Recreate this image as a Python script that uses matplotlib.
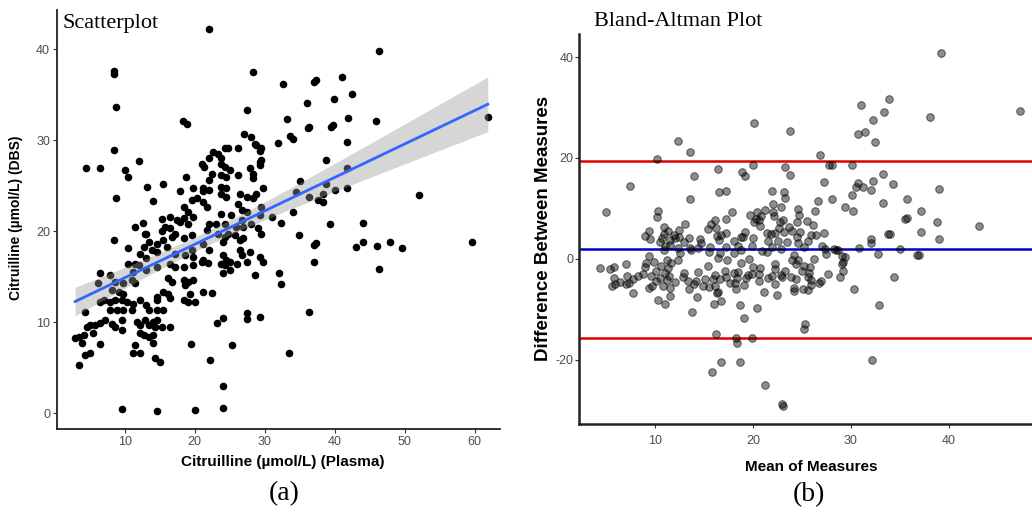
import numpy as np
import matplotlib
matplotlib.use("Agg")
import matplotlib.pyplot as plt

# citrulline readings (plasma on x, dried blood spot on y)
plasma = [
    22.1, 8.5, 8.5, 8.8, 28.3, 27.4, 18.3, 18.9, 8.5, 4.5, 6.5, 10.0, 10.4, 12.1, 8.8, 13.2,
    14.1, 15.5, 8.5, 17.9, 18.8, 27.1, 28.0, 28.8, 21.0, 21.3, 22.6, 23.3, 24.8, 23.8, 26.2,
    22.4, 22.1, 32.6, 37.1, 37.4, 41.0, 36.0, 39.9, 33.2, 36.2, 36.4, 39.5, 39.8, 41.9, 33.6,
    34.0, 31.9, 28.6, 29.5, 29.3, 41.7, 38.8, 29.3, 41.7, 35.0, 38.8, 41.7, 40.0, 34.5, 36.4,
    38.3, 37.6, 38.3, 29.8, 28.3, 28.8, 29.5, 29.3, 31.0, 32.4, 34.0, 39.4, 28.1, 29.0, 29.5,
    26.7, 26.9, 25.9, 34.9, 24.3, 22.1, 23.8, 24.3, 25.0, 23.8, 24.5, 26.2, 27.9, 28.3, 28.3,
    29.5, 29.3, 21.2, 22.1, 23.8, 24.5, 23.8, 24.5, 26.4, 27.4, 21.2, 21.7, 26.2, 26.7, 27.4,
    25.2, 23.8, 22.1, 23.1, 24.3, 21.7, 23.3, 24.8, 19.8, 21.2, 18.4, 19.6, 20.3, 19.1, 19.8,
    18.4, 17.4, 16.5, 15.3, 15.8, 16.5, 17.2, 17.9, 19.1, 19.6, 15.3, 13.1, 12.6, 11.5, 10.5,
    12.9, 13.4, 14.6, 15.5, 16.7, 18.4, 16.0, 14.6, 13.9, 12.7, 12.2, 13.1, 11.5, 12.0, 11.2,
    13.1, 14.6, 16.5, 17.2, 18.4, 19.8, 21.0, 19.8, 21.2, 6.5, 7.9, 6.2, 8.6, 8.1, 9.1, 9.8,
    9.6, 10.3, 8.6, 7.9, 7.0, 6.5, 8.9, 7.9, 9.8, 11.0, 11.2, 12.2, 13.1, 13.4, 14.6, 15.5,
    14.6, 15.5, 16.2, 14.6, 16.5, 16.2, 16.7, 18.4, 19.1, 19.8, 18.6, 19.3, 18.4, 19.1, 21.2,
    20.0, 4.3, 4.6, 5.0, 5.8, 6.5, 7.2, 8.1, 8.6, 9.6, 9.6, 2.9, 3.4, 3.9, 4.1, 5.5, 6.5, 4.3,
    5.0, 3.5, 11.7, 12.2, 12.9, 13.4, 14.1, 14.6, 14.3, 12.2, 12.7, 13.4, 14.1, 15.3, 16.5,
    11.5, 11.2, 12.2, 14.1, 14.3, 15.0, 19.5, 9.6, 14.6, 20.0, 9.8, 11.0, 11.5, 10.5, 17.2,
    18.6, 19.6, 22.2, 24.1, 24.0, 25.3, 23.2, 24.0, 27.4, 27.5, 29.3, 28.6, 37.1, 37.4, 37.1,
    32.1, 32.4, 22.4, 36.4, 33.5, 24.0, 24.5, 23.8, 24.3, 25.0, 26.0, 26.4, 26.7, 27.4, 27.9,
    29.3, 29.8, 26.4, 26.9, 25.7, 24.0, 24.3, 22.1, 21.2, 21.9, 24.0, 25.0, 46.4, 42.5, 45.9,
    61.9, 52.1, 44.1, 43.1, 44.0, 46.0, 47.9, 49.7, 59.6, 46.3,
]
dbs = [
    42.2, 37.6, 37.3, 33.7, 37.5, 33.3, 32.1, 31.8, 28.9, 27.0, 26.9, 26.7, 26.0, 27.7, 23.6, 24.9,
    23.3, 25.2, 19.0, 24.4, 26.0, 30.7, 30.4, 29.5, 27.4, 27.1, 28.7, 28.5, 29.1, 28.0, 29.1,
    26.3, 25.6, 36.2, 36.4, 36.6, 37.0, 34.1, 34.5, 32.3, 31.3, 31.5, 31.5, 31.7, 32.5, 30.5,
    30.1, 29.7, 29.6, 29.2, 28.8, 29.8, 27.8, 27.6, 26.9, 25.5, 25.2, 24.8, 24.5, 24.3, 23.8,
    24.1, 23.4, 23.2, 24.7, 23.6, 24.1, 22.7, 21.8, 21.6, 20.9, 22.1, 20.8, 20.8, 20.3, 19.7,
    21.2, 20.5, 20.5, 19.6, 29.1, 28.0, 27.4, 27.1, 26.7, 26.2, 26.0, 26.2, 26.9, 26.3, 25.8,
    27.8, 27.3, 24.7, 24.5, 24.9, 24.7, 24.1, 23.8, 24.1, 23.8, 23.2, 22.7, 23.0, 22.3, 22.1,
    21.8, 21.9, 20.8, 20.8, 20.8, 20.1, 19.7, 19.7, 24.7, 24.4, 22.7, 23.4, 23.6, 22.1, 21.6,
    21.4, 21.2, 21.6, 21.3, 20.5, 20.3, 19.7, 21.0, 20.8, 19.6, 20.0, 19.7, 20.9, 20.5, 18.1,
    19.7, 18.8, 18.6, 19.0, 19.4, 19.2, 18.3, 17.7, 17.9, 18.3, 17.5, 17.0, 16.4, 16.3, 15.5,
    15.7, 16.1, 16.4, 16.1, 16.1, 16.3, 16.6, 17.2, 18.6, 15.4, 15.2, 14.3, 14.4, 13.5, 13.3, 13.1,
    12.4, 12.2, 12.4, 12.2, 12.4, 12.2, 11.3, 11.3, 11.3, 11.3, 12.0, 12.4, 11.9, 11.3, 11.3, 11.3,
    12.4, 13.3, 13.1, 12.8, 12.6, 14.8, 14.4, 14.6, 14.4, 14.6, 14.1, 13.1, 12.4, 12.2, 13.3,
    12.2, 11.1, 9.5, 9.7, 9.7, 9.9, 10.2, 9.8, 9.5, 10.2, 9.1, 8.2, 8.4, 7.7, 8.6, 8.8, 7.6, 6.4,
    6.6, 5.3, 10.0, 9.7, 10.2, 9.7, 10.0, 10.2, 9.5, 8.8, 8.6, 8.4, 8.6, 9.5, 9.5,
    7.5, 6.6, 6.6, 7.7, 6.0, 5.6, 7.6, 0.4, 0.2, 0.3, 14.3, 14.6, 14.3, 16.4, 17.5,
    17.4, 17.9, 5.8, 3.0, 0.6, 7.5, 9.9, 10.5, 11.0, 10.3, 10.6, 15.2, 18.5, 18.7, 16.6,
    15.4, 14.2, 13.2, 11.1, 6.6, 17.4, 16.8, 16.4, 16.3, 16.6, 16.4, 17.9, 17.4, 16.6, 17.7,
    17.2, 16.6, 19.0, 19.2, 19.6, 18.8, 19.4, 17.9, 16.8, 16.5, 15.4, 15.7, 39.8, 35.1, 32.1,
    32.6, 24.0, 20.9, 18.3, 18.8, 18.4, 18.8, 18.1, 18.8, 15.8,
]

# bland-altman reference lines as printed on the plot (bias and limits of agreement)
ba_bias = 1.9
ba_limits = [19.4, -15.6]

plasma = np.array(plasma)
dbs = np.array(dbs)

# bland-altman: mean of the two methods against plasma minus dbs
ba_mean = (plasma + dbs) / 2
ba_diff = plasma - dbs

# linear fit with 95% confidence band (like geom_smooth(method='lm'))
slope, intercept = np.polyfit(plasma, dbs, 1)
n = len(plasma)
resid = dbs - (slope * plasma + intercept)
s = np.sqrt(np.sum(resid**2) / (n - 2))
sxx = np.sum((plasma - plasma.mean())**2)
x_line = np.linspace(plasma.min(), plasma.max(), 200)
y_line = slope * x_line + intercept
half = 1.97 * s * np.sqrt(1 / n + (x_line - plasma.mean())**2 / sxx)

serif = "Liberation Serif"
sans = "Liberation Sans"
tick_grey = "#4d4d4d"

fig = plt.figure(figsize=(10.32, 5.12), dpi=100)

# panel (a) scatterplot
ax1 = fig.add_axes([0.0552, 0.162, 0.429, 0.818])
ax1.scatter(plasma, dbs, s=30, color="black", linewidths=0, zorder=2)
ax1.fill_between(x_line, y_line - half, y_line + half, color="#999999", alpha=0.4, linewidth=0, zorder=3)
ax1.plot(x_line, y_line, color="#3366FF", linewidth=2, zorder=4)
ax1.set_xlim(0.3, 63.6)
ax1.set_ylim(-1.76, 44.3)
ax1.set_xticks([10, 20, 30, 40, 50, 60])
ax1.set_yticks([0, 10, 20, 30, 40])
for side in ["top", "right"]:
    ax1.spines[side].set_visible(False)
for side in ["left", "bottom"]:
    ax1.spines[side].set_linewidth(1.3)
    ax1.spines[side].set_color("#222222")
ax1.tick_params(length=3, width=0.8, color="#333333", labelsize=9, labelcolor=tick_grey, pad=2)
for lab in ax1.get_xticklabels() + ax1.get_yticklabels():
    lab.set_family(sans)
ax1.text(0.012, 0.99, "Scatterplot", transform=ax1.transAxes, family=serif, fontsize=16,
         ha="left", va="top")

fig.text(16 / 1032, 1 - 218 / 512, "Citruilline (µmol/L) (DBS)", rotation=90, family=sans,
         fontweight="bold", fontsize=10, ha="center", va="center")
fig.text(283 / 1032, 1 - 462 / 512, "Citruilline (µmol/L) (Plasma)", family=sans,
         fontweight="bold", fontsize=11, ha="center", va="center")
fig.text(284 / 1032, 1 - 494 / 512, "(a)", family=serif, fontsize=20, ha="center", va="center")

# panel (b) bland-altman plot
ax2 = fig.add_axes([0.561, 0.172, 0.439, 0.762])
ax2.axhline(ba_limits[0], color="#DD0000", linewidth=1.8, zorder=1)
ax2.axhline(ba_bias, color="#0000CC", linewidth=1.8, zorder=1)
ax2.axhline(ba_limits[1], color="#DD0000", linewidth=1.8, zorder=1)
ax2.scatter(ba_mean, ba_diff, s=30, facecolor=(0, 0, 0, 0.45), edgecolor=(0, 0, 0, 0.55),
            linewidths=0.7, zorder=2)
ax2.set_xlim(2.2, 48.5)
ax2.set_ylim(-32.7, 44.6)
ax2.set_xticks([10, 20, 30, 40])
ax2.set_yticks([-20, 0, 20, 40])
for side in ["top", "right"]:
    ax2.spines[side].set_visible(False)
for side in ["left", "bottom"]:
    ax2.spines[side].set_linewidth(1.8)
    ax2.spines[side].set_color("#222222")
ax2.tick_params(length=3, width=0.8, color="#333333", labelsize=9, labelcolor=tick_grey)
ax2.tick_params(axis="x", pad=5)
ax2.tick_params(axis="y", pad=1)
ax2.set_yticklabels(["-20", "0", "20", "40"])
for lab in ax2.get_xticklabels() + ax2.get_yticklabels():
    lab.set_family(sans)

fig.text(678 / 1032, 1 - 22 / 512, "Bland-Altman Plot", family=serif, fontsize=16,
         ha="center", va="center")
fig.text(543 / 1032, 1 - 228 / 512, "Difference Between Measures", rotation=90, family=sans,
         fontweight="bold", fontsize=13.5, ha="center", va="center")
fig.text(811 / 1032, 1 - 467 / 512, "Mean of Measures", family=sans,
         fontweight="bold", fontsize=11, ha="center", va="center")
fig.text(809 / 1032, 1 - 495 / 512, "(b)", family=serif, fontsize=20, ha="center", va="center")

fig.savefig("out.png", dpi=100)
